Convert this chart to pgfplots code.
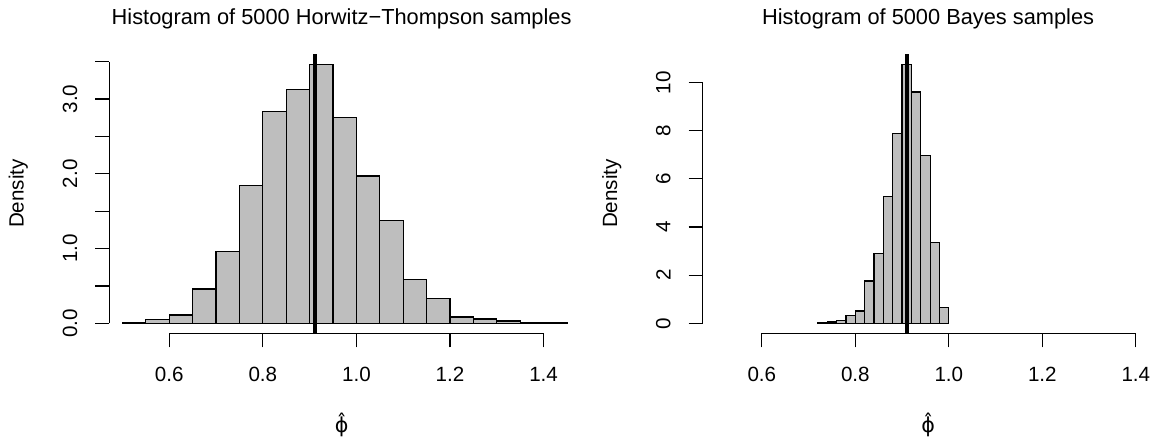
\documentclass[border=0pt]{standalone}
\usepackage{fontspec}
\setmainfont{Liberation Sans}
\newfontfamily\dejavu{DejaVu Sans}
\usepackage{pgfplots}
\pgfplotsset{compat=1.18}
\definecolor{bargray}{RGB}{190,190,190}
\pgfplotsset{
  rhist/.style={
    scale only axis,
    axis x line*=bottom, axis y line*=left,
    x axis line style={draw=none}, y axis line style={draw=none},
    clip=false,
    tick align=outside,
    major tick length=7pt,
    tick style={line width=0.6pt, black},
    xtick={0.6,0.8,1.0,1.2,1.4},
    xticklabels={0.6,0.8,1.0,1.2,1.4},
    ticklabel style={font=\fontsize{10.3}{12}\selectfont},
    xticklabel style={anchor=center, yshift=-13.35pt},
    yticklabel style={xshift=-12.65pt, rotate=90, anchor=center},
    /pgf/number format/assume math mode=true,
    title style={font=\fontsize{10.9}{13}\selectfont, anchor=base, at={(axis description cs:0.5,1)}, yshift=8.5pt},
    xlabel={{\dejavu ϕ̂}},
    xlabel style={font=\fontsize{10.3}{12}\selectfont, at={(axis description cs:0.5,0)}, anchor=center, yshift=-45.85pt},
    ylabel={Density},
    ylabel style={font=\fontsize{10.3}{12}\selectfont, anchor=center},
  }
}
\begin{document}
\begin{tikzpicture}
\useasboundingbox (0,0) rectangle (579pt,221.5pt);
% Left: Horwitz-Thompson
\begin{axis}[rhist, at={(54.65pt,54.85pt)}, anchor=south west,
  width=232.35pt, height=139.65pt,
  xmin=0.4718, xmax=1.465, ymin=-0.1337, ymax=3.602,
  ytick={0,0.5,1,1.5,2,2.5,3,3.5},
  yticklabels={0.0,,1.0,,2.0,,3.0,},
  title={Histogram of 5000 Horwitz\textminus Thompson samples},
  ylabel style={at={(axis description cs:-0.1958,0.5)}}]
\addplot[ybar interval, fill=bargray, draw=black, line width=0.6pt] coordinates {
(0.50,0.013) (0.55,0.05) (0.60,0.11) (0.65,0.46) (0.70,0.96) (0.75,1.84)
(0.80,2.83) (0.85,3.13) (0.90,3.46) (0.95,2.75) (1.00,1.97) (1.05,1.37)
(1.10,0.585) (1.15,0.33) (1.20,0.085) (1.25,0.058) (1.30,0.03) (1.35,0.012)
(1.40,0.006) (1.45,0)};
\addplot[black, line width=2pt] coordinates {(0.911,-0.1337) (0.911,3.602)};
\draw[line width=0.6pt] (axis cs:0.6,-0.1337) -- (axis cs:1.4,-0.1337);
\draw[line width=0.6pt] (axis cs:0.4718,0) -- (axis cs:0.4718,3.5);
\end{axis}
% Right: Bayes
\begin{axis}[rhist, at={(351.35pt,54.85pt)}, anchor=south west,
  width=225.45pt, height=139.65pt,
  xmin=0.4735, xmax=1.438, ymin=-0.4156, ymax=11.19,
  ytick={0,2,4,6,8,10},
  yticklabels={0,2,4,6,8,10},
  title={Histogram of 5000 Bayes samples},
  ylabel style={at={(axis description cs:-0.2018,0.5)}}]
\addplot[ybar interval, fill=bargray, draw=black, line width=0.6pt] coordinates {
(0.72,0.03) (0.74,0.055) (0.76,0.1) (0.78,0.32) (0.80,0.51) (0.82,1.76)
(0.84,2.91) (0.86,5.26) (0.88,7.87) (0.90,10.75) (0.92,9.61) (0.94,6.97)
(0.96,3.37) (0.98,0.65) (1.00,0)};
\addplot[black, line width=2pt] coordinates {(0.911,-0.4156) (0.911,11.19)};
\draw[line width=0.6pt] (axis cs:0.6,-0.4156) -- (axis cs:1.4,-0.4156);
\draw[line width=0.6pt] (axis cs:0.4735,0) -- (axis cs:0.4735,10);
\end{axis}
\end{tikzpicture}
\end{document}
